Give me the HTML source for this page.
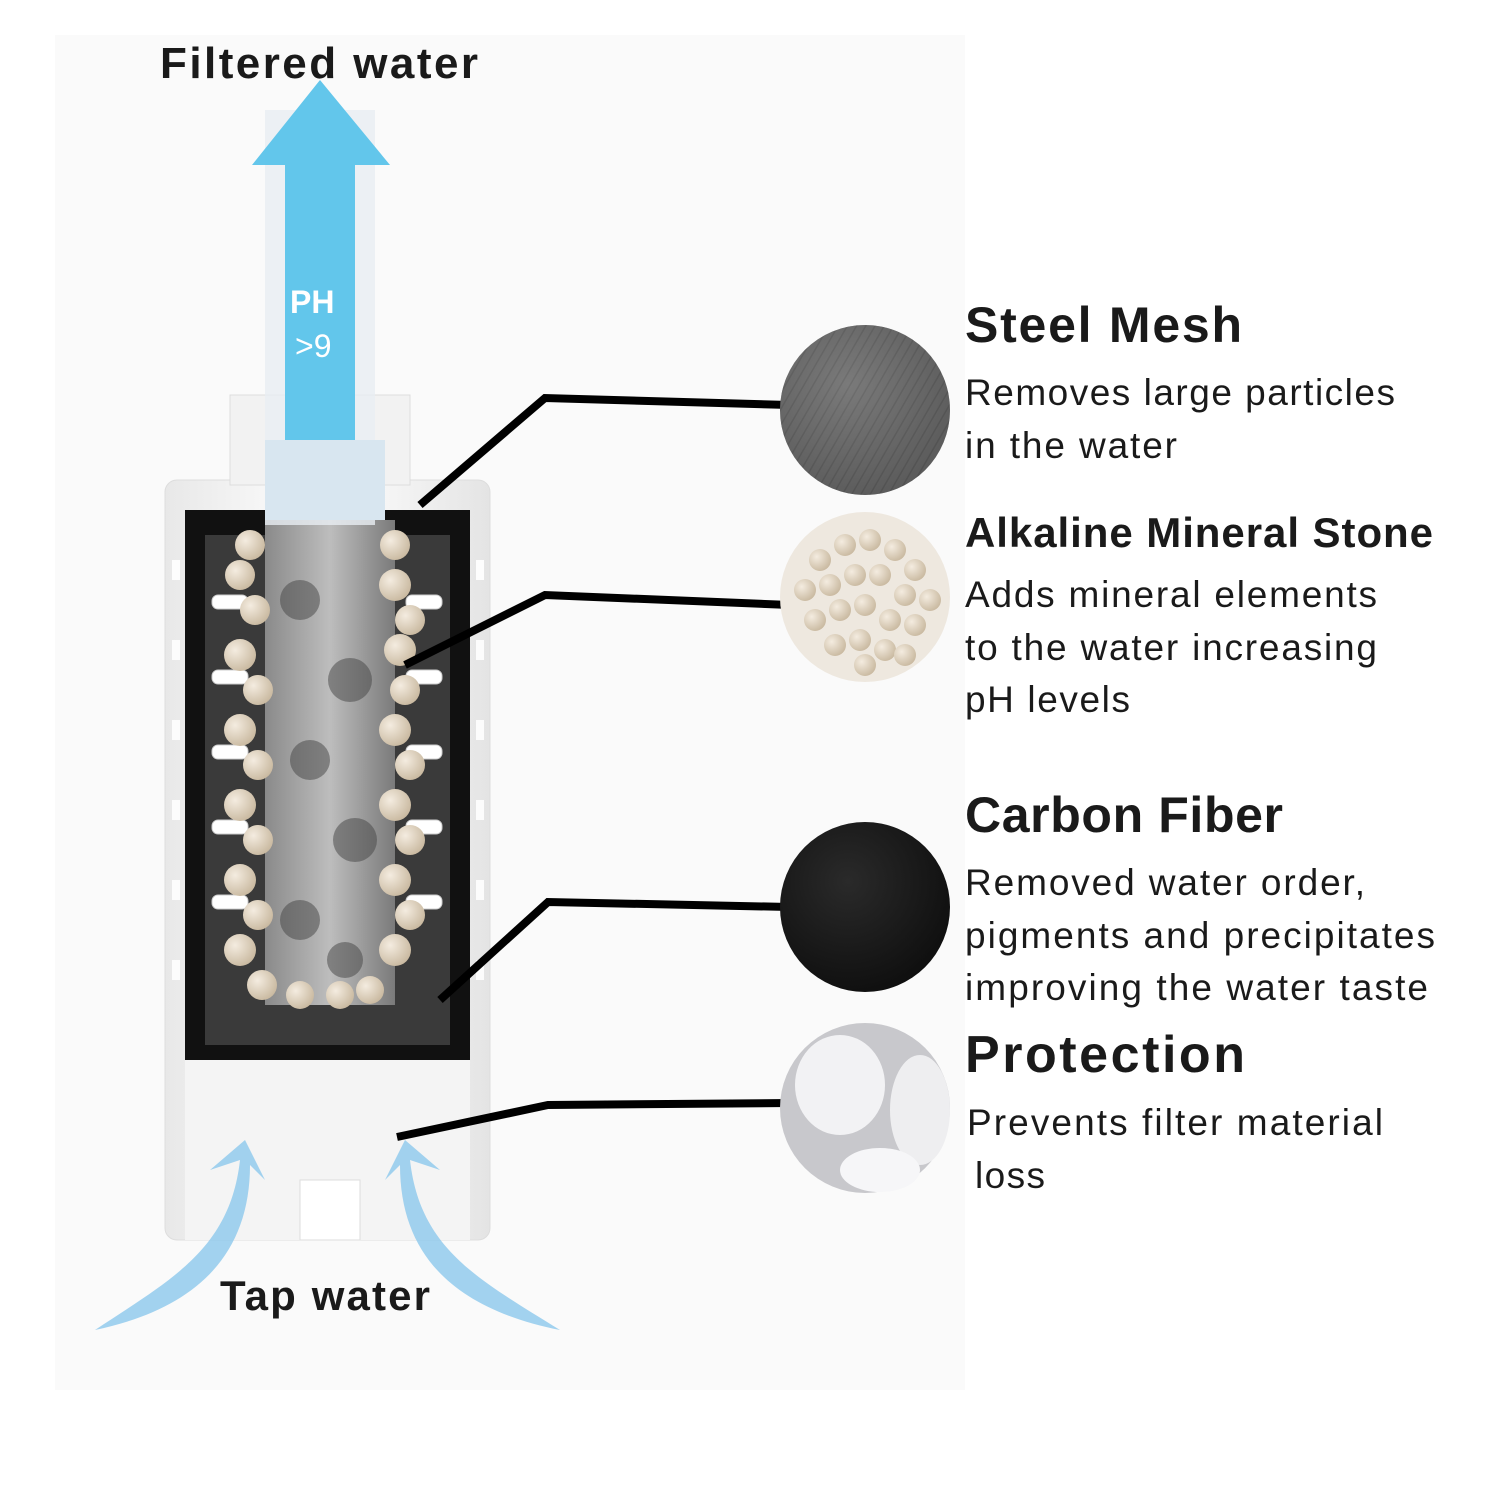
<!DOCTYPE html>
<html><head><meta charset="utf-8"><style>
html,body{margin:0;padding:0;background:#fff;}
svg{display:block;}
text{font-family:"Liberation Sans",sans-serif;fill:#1a1a1a;}
</style></head><body>
<svg width="1500" height="1500" viewBox="0 0 1500 1500" xmlns="http://www.w3.org/2000/svg">
<defs>
<radialGradient id="ball" cx="35%" cy="35%" r="70%"><stop offset="0" stop-color="#f4ece0"/><stop offset="1" stop-color="#c9b9a0"/></radialGradient>
<radialGradient id="mesh" cx="40%" cy="35%" r="70%"><stop offset="0" stop-color="#8a8a8a"/><stop offset="1" stop-color="#4a4a4a"/></radialGradient>
<radialGradient id="carb" cx="40%" cy="35%" r="70%"><stop offset="0" stop-color="#2a2a2a"/><stop offset="1" stop-color="#0e0e0e"/></radialGradient>
<linearGradient id="shell" x1="0" x2="1"><stop offset="0" stop-color="#e8e8e8"/><stop offset=".5" stop-color="#fff"/><stop offset="1" stop-color="#e4e4e4"/></linearGradient>
<linearGradient id="core" x1="0" x2="1"><stop offset="0" stop-color="#8a8a8a"/><stop offset=".5" stop-color="#bdbdbd"/><stop offset="1" stop-color="#7a7a7a"/></linearGradient>
<pattern id="pat" width="8" height="8" patternUnits="userSpaceOnUse" patternTransform="rotate(30)"><rect width="8" height="8" fill="#6a6a6a"/><line x1="0" y1="0" x2="0" y2="8" stroke="#555" stroke-width="3"/></pattern>
</defs>
<rect width="1500" height="1500" fill="#fff"/>
<rect x="55" y="35" width="910" height="1355" fill="#fafafa"/>

<rect x="165" y="480" width="325" height="760" rx="12" fill="url(#shell)" stroke="#ddd"/>
<rect x="230" y="395" width="180" height="90" fill="#f2f2f2" stroke="#ddd"/>
<rect x="185" y="510" width="285" height="550" fill="#111"/>
<rect x="205" y="535" width="245" height="510" fill="#3a3a3a"/>
<rect x="265" y="520" width="130" height="485" fill="url(#core)"/>
<g fill="#444" opacity=".5">
<circle cx="300" cy="600" r="20"/><circle cx="350" cy="680" r="22"/><circle cx="310" cy="760" r="20"/><circle cx="355" cy="840" r="22"/><circle cx="300" cy="920" r="20"/><circle cx="345" cy="960" r="18"/>
</g>
<rect x="185" y="1060" width="285" height="180" fill="#f4f4f4"/>
<rect x="300" y="1180" width="60" height="60" fill="#fff" stroke="#ddd"/>
<g fill="#fff" stroke="#ccc">
<rect x="212" y="595" width="36" height="14" rx="6"/><rect x="212" y="670" width="36" height="14" rx="6"/><rect x="212" y="745" width="36" height="14" rx="6"/><rect x="212" y="820" width="36" height="14" rx="6"/><rect x="212" y="895" width="36" height="14" rx="6"/>
<rect x="406" y="595" width="36" height="14" rx="6"/><rect x="406" y="670" width="36" height="14" rx="6"/><rect x="406" y="745" width="36" height="14" rx="6"/><rect x="406" y="820" width="36" height="14" rx="6"/><rect x="406" y="895" width="36" height="14" rx="6"/>
</g>
<g fill="#fff" opacity=".9">
<rect x="172" y="560" width="8" height="20"/><rect x="172" y="640" width="8" height="20"/><rect x="172" y="720" width="8" height="20"/><rect x="172" y="800" width="8" height="20"/><rect x="172" y="880" width="8" height="20"/><rect x="172" y="960" width="8" height="20"/>
<rect x="476" y="560" width="8" height="20"/><rect x="476" y="640" width="8" height="20"/><rect x="476" y="720" width="8" height="20"/><rect x="476" y="800" width="8" height="20"/><rect x="476" y="880" width="8" height="20"/><rect x="476" y="960" width="8" height="20"/>
</g>
<g fill="url(#ball)">
<circle cx="250" cy="545" r="15"/><circle cx="240" cy="575" r="15"/><circle cx="255" cy="610" r="15"/><circle cx="240" cy="655" r="16"/><circle cx="258" cy="690" r="15"/><circle cx="240" cy="730" r="16"/><circle cx="258" cy="765" r="15"/><circle cx="240" cy="805" r="16"/><circle cx="258" cy="840" r="15"/><circle cx="240" cy="880" r="16"/><circle cx="258" cy="915" r="15"/><circle cx="240" cy="950" r="16"/><circle cx="262" cy="985" r="15"/>
<circle cx="395" cy="545" r="15"/><circle cx="395" cy="585" r="16"/><circle cx="410" cy="620" r="15"/><circle cx="400" cy="650" r="16"/><circle cx="405" cy="690" r="15"/><circle cx="395" cy="730" r="16"/><circle cx="410" cy="765" r="15"/><circle cx="395" cy="805" r="16"/><circle cx="410" cy="840" r="15"/><circle cx="395" cy="880" r="16"/><circle cx="410" cy="915" r="15"/><circle cx="395" cy="950" r="16"/>
<circle cx="300" cy="995" r="14"/><circle cx="340" cy="995" r="14"/><circle cx="370" cy="990" r="14"/>
</g>
<rect x="265" y="110" width="110" height="415" fill="#e8eef2" opacity=".8"/>
<rect x="265" y="440" width="120" height="80" fill="#d8e6f0"/>
<path d="M285 440 L285 165 L252 165 L320 80 L390 165 L355 165 L355 440 Z" fill="#5bc3ea" opacity=".95"/>
<text x="290" y="313" font-size="32" font-weight="bold" style="fill:#fff">PH</text>
<text x="295" y="357" font-size="32" style="fill:#fff">&gt;9</text>
<path d="M95 1330 C170 1280 230 1250 240 1160 L210 1170 L245 1140 L265 1180 L250 1165 C250 1260 190 1310 95 1330 Z" fill="#8cc8ec" opacity=".8"/>
<path d="M560 1330 C480 1280 420 1250 410 1160 L440 1170 L405 1140 L385 1180 L400 1165 C400 1260 460 1310 560 1330 Z" fill="#8cc8ec" opacity=".8"/>

<g stroke="#000" stroke-width="8" fill="none">
<polyline points="420,505 545,398 790,405"/>
<polyline points="405,665 545,595 790,605"/>
<polyline points="440,1000 548,902 790,907"/>
<polyline points="397,1137 548,1105 790,1103"/>
</g>
<circle cx="865" cy="410" r="85" fill="url(#pat)"/>
<circle cx="865" cy="410" r="85" fill="url(#mesh)" opacity=".5"/>
<circle cx="865" cy="597" r="85" fill="#eee8df"/>
<g fill="url(#ball)">
<circle cx="820" cy="560" r="11"/><circle cx="845" cy="545" r="11"/><circle cx="870" cy="540" r="11"/><circle cx="895" cy="550" r="11"/><circle cx="915" cy="570" r="11"/>
<circle cx="805" cy="590" r="11"/><circle cx="830" cy="585" r="11"/><circle cx="855" cy="575" r="11"/><circle cx="880" cy="575" r="11"/><circle cx="905" cy="595" r="11"/><circle cx="930" cy="600" r="11"/>
<circle cx="815" cy="620" r="11"/><circle cx="840" cy="610" r="11"/><circle cx="865" cy="605" r="11"/><circle cx="890" cy="620" r="11"/><circle cx="915" cy="625" r="11"/>
<circle cx="835" cy="645" r="11"/><circle cx="860" cy="640" r="11"/><circle cx="885" cy="650" r="11"/><circle cx="905" cy="655" r="11"/><circle cx="865" cy="665" r="11"/>
</g>
<circle cx="865" cy="907" r="85" fill="url(#carb)"/>
<circle cx="865" cy="1108" r="85" fill="#c8c8cc"/>
<ellipse cx="840" cy="1085" rx="45" ry="50" fill="#f2f2f4"/>
<ellipse cx="920" cy="1110" rx="30" ry="55" fill="#eeeef0"/>
<ellipse cx="880" cy="1170" rx="40" ry="22" fill="#f6f6f8"/>

<text x="160" y="78" font-size="44" font-weight="bold" textLength="318">Filtered water</text>
<text x="220" y="1310" font-size="42" font-weight="bold" textLength="210">Tap water</text>

<text x="965" y="342" font-size="50" font-weight="bold" textLength="277">Steel Mesh</text>
<text x="965" y="405" font-size="37" textLength="430">Removes large particles</text>
<text x="965" y="458" font-size="37" textLength="212">in the water</text>

<text x="965" y="547" font-size="42" font-weight="bold" textLength="468">Alkaline Mineral Stone</text>
<text x="965" y="607" font-size="37" textLength="412">Adds mineral elements</text>
<text x="965" y="660" font-size="37" textLength="412">to the water increasing</text>
<text x="965" y="712" font-size="37" textLength="165">pH levels</text>

<text x="965" y="832" font-size="50" font-weight="bold" textLength="318">Carbon Fiber</text>
<text x="965" y="895" font-size="37" textLength="400">Removed water order,</text>
<text x="965" y="948" font-size="37" textLength="470">pigments and precipitates</text>
<text x="965" y="1000" font-size="37" textLength="463">improving the water taste</text>

<text x="965" y="1072" font-size="52" font-weight="bold" textLength="280">Protection</text>
<text x="967" y="1135" font-size="37" textLength="416">Prevents filter material</text>
<text x="975" y="1188" font-size="37" textLength="70">loss</text>
</svg>
</body></html>
